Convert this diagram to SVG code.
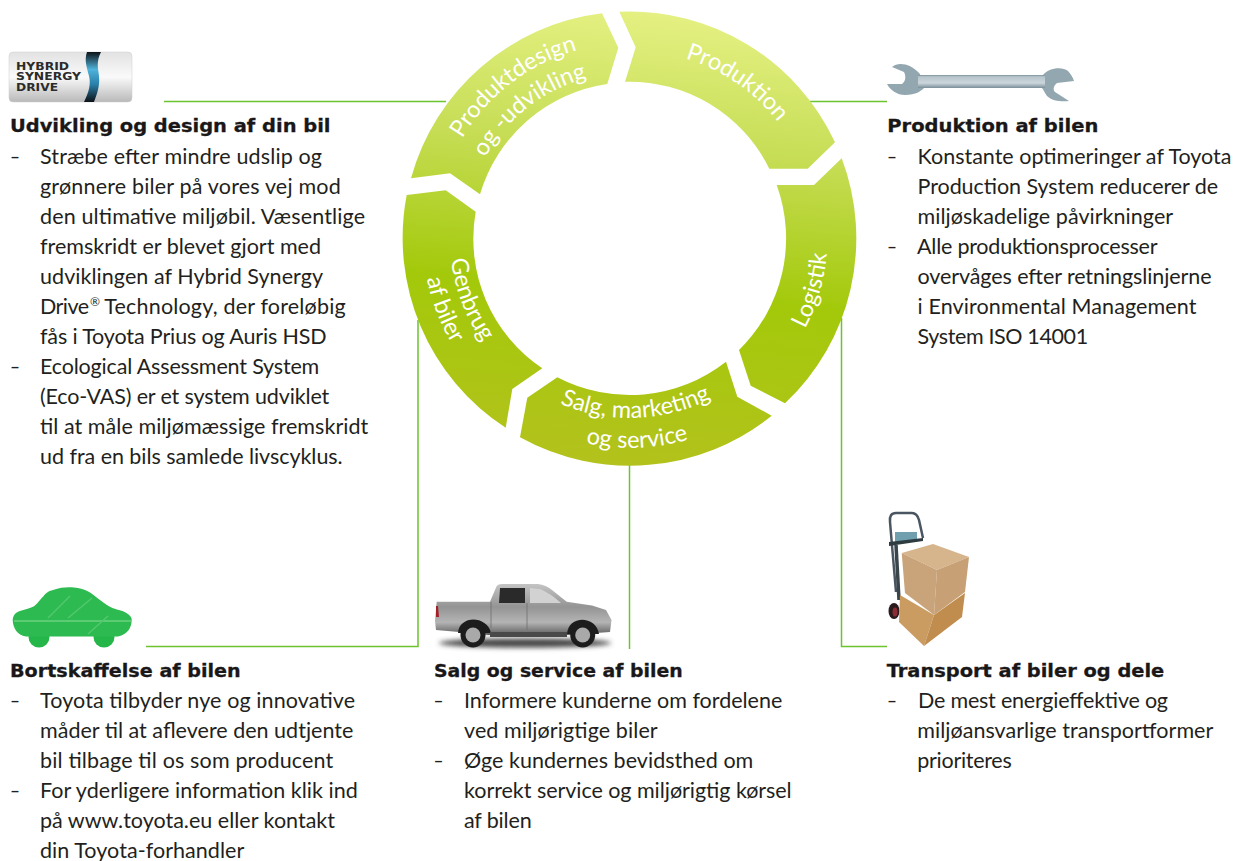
<svg xmlns="http://www.w3.org/2000/svg" width="1236" height="861" viewBox="0 0 1236 861">
<style>
text{font-family:"Lato","Noto Sans",sans-serif}
.h{font-family:"DejaVu Sans",sans-serif;font-size:18px;font-weight:700;fill:#1a1718;stroke:#1a1718;stroke-width:.3}
.b{font-size:21.500px;fill:#231f20}
.r{font-size:23.500px;font-weight:400;fill:#fff;text-anchor:middle}
.l{fill:none;stroke:#6cc42e;stroke-width:1.500}
.seg{fill:url(#ring)}
.badge{font-family:"DejaVu Sans",sans-serif;font-size:10.500px;font-weight:700;fill:#2b2b2b}
</style>
<defs>
<linearGradient id="ring" gradientUnits="userSpaceOnUse" x1="655" y1="10" x2="615" y2="465">
<stop offset="0" stop-color="#e5f183"/><stop offset=".3" stop-color="#c6dd55"/><stop offset=".62" stop-color="#a3c90a"/><stop offset="1" stop-color="#b3c21c"/>
</linearGradient>
<linearGradient id="steel" gradientUnits="userSpaceOnUse" x1="0" y1="74" x2="0" y2="89"><stop offset="0" stop-color="#566c78"/><stop offset=".18" stop-color="#b6c4cb"/><stop offset=".6" stop-color="#cbd6db"/><stop offset="1" stop-color="#6a808c"/></linearGradient>
<linearGradient id="silver" x1="0" y1="0" x2="0" y2="1"><stop offset="0" stop-color="#e2e2e2"/><stop offset=".5" stop-color="#fafafa"/><stop offset="1" stop-color="#b9b9b9"/></linearGradient>
<linearGradient id="swirl" x1="0" y1="0" x2="0" y2="1"><stop offset="0" stop-color="#0c1216"/><stop offset=".35" stop-color="#4fb3dc"/><stop offset=".65" stop-color="#2a7fa8"/><stop offset="1" stop-color="#0c1216"/></linearGradient>
<linearGradient id="truck" x1="0" y1="0" x2="0" y2="1"><stop offset="0" stop-color="#c4c4c4"/><stop offset=".45" stop-color="#949494"/><stop offset=".75" stop-color="#b4b4b4"/><stop offset="1" stop-color="#5e5e5e"/></linearGradient>
<filter id="soft" x="-10%" y="-10%" width="120%" height="120%"><feGaussianBlur stdDeviation=".5"/></filter>
<filter id="shade" x="-20%" y="-200%" width="140%" height="500%"><feGaussianBlur stdDeviation="2.500"/></filter>
<path id="t1" d="M457 328.100A195 195 0 0 1 761.800 94.300"/>
<path id="t2" d="M483.400 315.900A166 166 0 0 1 741 114.700"/>
<path id="t3" d="M496 106.200A188 188 0 0 1 801.100 316"/>
<path id="t4" d="M609.400 434A197 197 0 0 0 716.300 60.900"/>
<path id="t5" d="M453.900 275.400A180 180 0 0 0 808.200 263"/>
<path id="t6" d="M424.600 281.700A210 210 0 0 0 837.900 267.200"/>
<path id="t7" d="M537.300 83.700A180 180 0 0 0 664.400 414.800"/>
<path id="t8" d="M523.400 60.600A207 207 0 0 0 669.500 441.300"/>
</defs>

<g id="connectors">
<path class="l" d="M164 101.500H446"/>
<path class="l" d="M810 101.500H887"/>
<path class="l" d="M418 320V646.500H146"/>
<path class="l" d="M629.500 462V649"/>
<path class="l" d="M841.500 318V646.500H887"/>
</g>

<g id="ring-segments">
<g id="seg-produktdesign"><path class="seg" d="M411 178.300A226.500 226.500 0 0 1 602 13.300L618.300 47.700L607.300 84A156 156 0 0 0 480 194.300L450 173.300Z"/>
<text class="r"><textPath href="#t1" startOffset="50%">Produktdesign</textPath></text>
<text class="r"><textPath href="#t2" startOffset="50%">og -udvikling</textPath></text></g>
<g id="seg-produktion"><path class="seg" d="M619.300 11.700A226.500 226.500 0 0 1 835 142.300L807.700 168.700H769.300A156 156 0 0 0 625 81.700L635.700 47.300Z"/>
<text class="r"><textPath href="#t3" startOffset="50%">Produktion</textPath></text></g>
<g id="seg-logistik"><path class="seg" d="M841.700 158.300A226.500 226.500 0 0 1 785 403.300L750.700 385.700L739 350A156 156 0 0 0 776.700 185H814Z"/>
<text class="r"><textPath href="#t4" startOffset="50%">Logistik</textPath></text></g>
<g id="seg-salg"><path class="seg" d="M771.700 415.700A226.500 226.500 0 0 1 520 437.300L527.300 397.700L557.300 377.300A156 156 0 0 0 726 361.700L737.300 396.700Z"/>
<text class="r"><textPath href="#t5" startOffset="50%">Salg, marketing</textPath></text>
<text class="r"><textPath href="#t6" startOffset="50%">og service</textPath></text></g>
<g id="seg-genbrug"><path class="seg" d="M505.700 427.700A226.500 226.500 0 0 1 406.700 195L445.700 190.300L475.700 211.700A156 156 0 0 0 542.300 368.300L512.300 389Z"/>
<text class="r"><textPath href="#t7" startOffset="50%">Genbrug</textPath></text>
<text class="r"><textPath href="#t8" startOffset="50%">af biler</textPath></text></g>
</g>

<g id="badge-hybrid">
<rect x="9" y="52" width="123" height="50" rx="4" fill="url(#silver)" stroke="#cfcfcf" stroke-width=".5"/>
<path d="M87 52H101C96 62 98 68 99 76C100 86 97 94 94 102H84C89 92 91 84 89 76C87 68 84 60 87 52Z" fill="url(#swirl)"/>
<text class="badge" x="16" y="69.500" textLength="53" lengthAdjust="spacingAndGlyphs">HYBRID</text>
<text class="badge" x="16" y="80" textLength="65" lengthAdjust="spacingAndGlyphs">SYNERGY</text>
<text class="badge" x="16" y="90.500" textLength="42" lengthAdjust="spacingAndGlyphs">DRIVE</text>
</g>

<g id="wrench" filter="url(#soft)">
<path fill="#93a7b1" d="M892 67C898 62 910 63 920 74L924 88C921 91 916 95 905 95C897 95 890 90 887 84L902 84C906 81 906 76 904 72Z"/>
<path fill="#93a7b1" d="M1043 75C1048 68 1062 66 1068 71C1071 74 1073 78 1074 81L1057 83C1053 86 1053 90 1055 92L1069 101C1062 102 1052 101 1047 96C1045 93 1044 91 1042 88Z"/>
<path fill="url(#steel)" d="M918 75H1045V88H918Z"/>
</g>

<g id="trolley" filter="url(#soft)">
<path d="M896 592L890 522Q889 513 896 513H912Q917 513 919 520L923 538" fill="none" stroke="#4a5560" stroke-width="2.500"/>
<rect x="895" y="532" width="22" height="10" fill="#6fa0ad"/>
<path d="M889 542L923 538V541L889 546Z" fill="#2f3a40"/>
<path d="M896 545L899 600" stroke="#39444c" stroke-width="3.500"/>
<ellipse cx="894" cy="611" rx="5.500" ry="8" fill="#2a1a1c"/>
<ellipse cx="895" cy="612" rx="2.500" ry="4.500" fill="#8c2c34"/>
<path d="M900 595L934 615L924 646L899 622Z" fill="#cb9c62"/>
<path d="M934 615L965 593L962 617L924 646Z" fill="#c08d4f"/>
<path d="M901.700 553L933 544L969 557L937 570Z" fill="#d6b48c"/>
<path d="M901.700 553L937 570L934 615L905 593Z" fill="#c9a47a"/>
<path d="M937 570L969 557L965 592L934 615Z" fill="#c7a075"/>
</g>

<g id="pickup">
<ellipse cx="525" cy="643" rx="86" ry="4.500" fill="#444" filter="url(#shade)"/>
<g filter="url(#soft)">
<path fill="url(#truck)" d="M436.700 601.700H490L496.700 586Q498 584 502 584H538Q546 585 552 590L566.700 601.700L592 605.500L606 610L611.500 620L610 632L596 633L569 635H488L459 632L436 630L435 621Z"/>
<path fill="#2a2a2a" d="M500 588H525V603H499Z"/>
<path fill="#d2d2d2" d="M530 588L540 589Q550 593 561 603H530Z"/>
<path fill="#a3232c" d="M436 606L438 606L439 617L436 617Z"/>
<path d="M491 602V628M527 603V630" stroke="#6e6e6e" stroke-width=".8"/>
<path fill="#1f1f1f" d="M458 633C459 615 487 615 491 633Z"/>
<path fill="#1f1f1f" d="M567 634C568 615 596 615 599 634Z"/>
<path fill="#4a4a4a" d="M490 632H567V637H490Z"/>
<circle cx="473" cy="635" r="12.500" fill="#1d1d1d"/><circle cx="473" cy="635" r="7.500" fill="#a9a9a9"/>
<circle cx="582.700" cy="635" r="12.500" fill="#1d1d1d"/><circle cx="582.700" cy="635" r="7.500" fill="#a9a9a9"/>
</g>
</g>

<g id="green-car">
<circle cx="39" cy="637" r="10.500" fill="#25b64a"/><circle cx="104" cy="637" r="10.500" fill="#25b64a"/>
<path fill="#2dba50" d="M12.700 620C13 615 16 612 20 611C26 609 30 608 33 606.700C38 604 40 599 43 596.700C47 592 49 591 53 590C60 587.500 66 587 71.700 587.300C78 587.500 83 589 86.700 590.700C92 593 96 597 100 600C104 603 108 606 113 608.300C118 610 124 611 126.700 613.300C130 615 132 618 131.700 620C131.500 628 128 634 118 636.500L26 636.500C17 635 13 628 12.700 620Z"/>
<path d="M14 621H131" stroke="#8adc98" stroke-width="1"/>
<path d="M48 618L70 596M68 618L92 598M88 634L108 616" stroke="#52c86e" stroke-width="1.500" fill="none"/>
</g>

<g id="text-udvikling">
<text class="h" x="10" y="132" textLength="320.500" lengthAdjust="spacingAndGlyphs">Udvikling og design af din bil</text>
<text class="b" x="10" y="164" textLength="10" lengthAdjust="spacingAndGlyphs">–</text><text class="b" x="40" y="164" textLength="282">Stræbe efter mindre udslip og</text>
<text class="b" x="40" y="194" textLength="300.700">grønnere biler på vores vej mod</text>
<text class="b" x="40" y="224" textLength="325">den ultimative miljøbil. Væsentlige</text>
<text class="b" x="40" y="254" textLength="281">fremskridt er blevet gjort med</text>
<text class="b" x="40" y="284" textLength="283">udviklingen af Hybrid Synergy</text>
<text class="b" x="40" y="314" textLength="49">Drive</text><text class="b" x="90" y="306" style="font-size:12px">®</text><text class="b" x="104.300" y="314" textLength="241.400">Technology, der foreløbig</text>
<text class="b" x="40" y="344" textLength="286.700">fås i Toyota Prius og Auris HSD</text>
<text class="b" x="10" y="374" textLength="10" lengthAdjust="spacingAndGlyphs">–</text><text class="b" x="40" y="374" textLength="279.300">Ecological Assessment System</text>
<text class="b" x="40" y="404" textLength="289.300">(Eco-VAS) er et system udviklet</text>
<text class="b" x="40" y="434" textLength="328.300">til at måle miljømæssige fremskridt</text>
<text class="b" x="40" y="464" textLength="302.700">ud fra en bils samlede livscyklus.</text>
</g>

<g id="text-produktion">
<text class="h" x="887.300" y="132" textLength="211" lengthAdjust="spacingAndGlyphs">Produktion af bilen</text>
<text class="b" x="887" y="164" textLength="10" lengthAdjust="spacingAndGlyphs">–</text><text class="b" x="917.500" y="164" textLength="314">Konstante optimeringer af Toyota</text>
<text class="b" x="917.500" y="194" textLength="300.700">Production System reducerer de</text>
<text class="b" x="917.500" y="224" textLength="255.600">miljøskadelige påvirkninger</text>
<text class="b" x="887" y="254" textLength="10" lengthAdjust="spacingAndGlyphs">–</text><text class="b" x="917" y="254" textLength="240.500">Alle produktionsprocesser</text>
<text class="b" x="917.500" y="284" textLength="294">overvåges efter retningslinjerne</text>
<text class="b" x="917.500" y="314" textLength="279">i Environmental Management</text>
<text class="b" x="917.500" y="344" textLength="170.700">System ISO 14001</text>
</g>

<g id="text-bortskaffelse">
<text class="h" x="10" y="676.500" textLength="230.700" lengthAdjust="spacingAndGlyphs">Bortskaffelse af bilen</text>
<text class="b" x="10" y="707.500" textLength="10" lengthAdjust="spacingAndGlyphs">–</text><text class="b" x="40" y="707.500" textLength="315">Toyota tilbyder nye og innovative</text>
<text class="b" x="40" y="737.500" textLength="313.300">måder til at aflevere den udtjente</text>
<text class="b" x="40" y="767.500" textLength="293.300">bil tilbage til os som producent</text>
<text class="b" x="10" y="797.500" textLength="10" lengthAdjust="spacingAndGlyphs">–</text><text class="b" x="40" y="797.500" textLength="317.700">For yderligere information klik ind</text>
<text class="b" x="40" y="827.500" textLength="295">på www.toyota.eu eller kontakt</text>
<text class="b" x="40" y="857.500" textLength="204.300">din Toyota-forhandler</text>
</g>

<g id="text-salg">
<text class="h" x="434" y="676.500" textLength="248.700" lengthAdjust="spacingAndGlyphs">Salg og service af bilen</text>
<text class="b" x="433.500" y="707.500" textLength="10" lengthAdjust="spacingAndGlyphs">–</text><text class="b" x="464" y="707.500" textLength="318.300">Informere kunderne om fordelene</text>
<text class="b" x="464" y="737.500" textLength="193.700">ved miljørigtige biler</text>
<text class="b" x="433.500" y="767.500" textLength="10" lengthAdjust="spacingAndGlyphs">–</text><text class="b" x="464" y="767.500" textLength="289.300">Øge kundernes bevidsthed om</text>
<text class="b" x="464" y="797.500" textLength="327.700">korrekt service og miljørigtig kørsel</text>
<text class="b" x="464" y="827.500" textLength="67.700">af bilen</text>
</g>

<g id="text-transport">
<text class="h" x="886.700" y="676.500" textLength="277.600" lengthAdjust="spacingAndGlyphs">Transport af biler og dele</text>
<text class="b" x="887" y="707.500" textLength="10" lengthAdjust="spacingAndGlyphs">–</text><text class="b" x="918" y="707.500" textLength="250">De mest energieffektive og</text>
<text class="b" x="917.300" y="737.500" textLength="296">miljøansvarlige transportformer</text>
<text class="b" x="917.300" y="767.500" textLength="94.400">prioriteres</text>
</g>
</svg>
